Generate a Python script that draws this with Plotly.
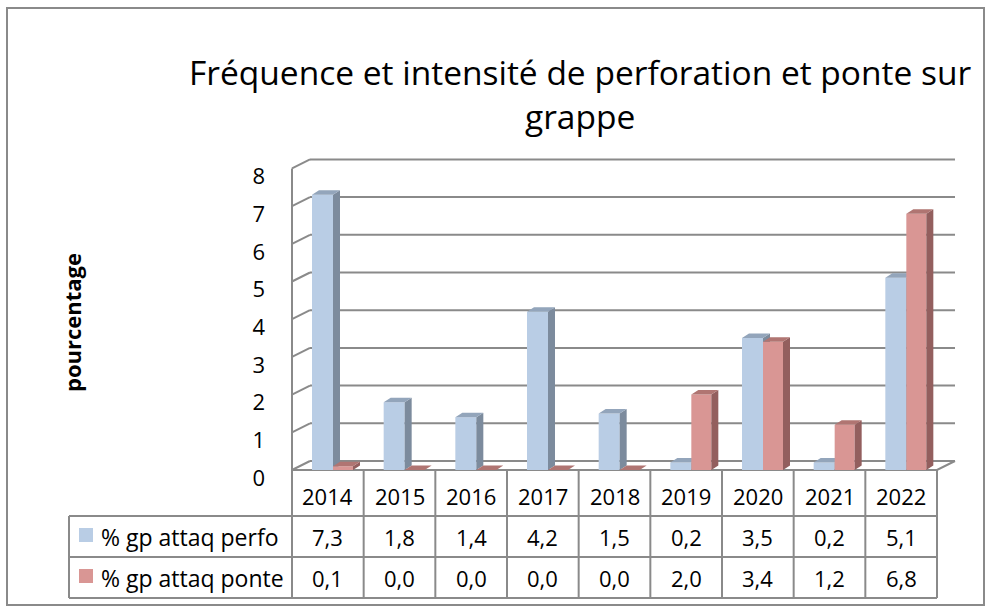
import plotly.graph_objects as go

years = ['2014', '2015', '2016', '2017', '2018', '2019', '2020', '2021', '2022']
perfo = [7.3, 1.8, 1.4, 4.2, 1.5, 0.2, 3.5, 0.2, 5.1]
ponte = [0.1, 0.0, 0.0, 0.0, 0.0, 2.0, 3.4, 1.2, 6.8]
series_names = ['% gp attaq perfo', '% gp attaq ponte']
y_ticks = [0, 1, 2, 3, 4, 5, 6, 7, 8]
title_text = 'Fréquence et intensité de perforation et ponte sur<br>grappe'

W, H = 990, 609
X0_PX = 292          # left edge of first column (front)
COL_PX = 645 / 9     # width of one category column
Y0_PX = 470          # pixel of value 0 (front)
UNIT_PX = 37.7       # pixels per unit

def dx(p):
    return p / COL_PX

def dy(p):
    return p / UNIT_PX

def px_x(p):
    return -0.5 + (p - X0_PX) / COL_PX

def px_y(p):
    return (Y0_PX - p) / UNIT_PX

# 3d offsets
wall_dx, wall_dy = dx(18), dy(9)
bar_dx, bar_dy = dx(7), dy(4.5)

grey = '#8a8a8a'
font = 'Open Sans'

def faces(vals, off0, off1):
    fx, fy, sx, sy, tx, ty = [], [], [], [], [], []
    for i, v in enumerate(vals):
        x0 = i + off0
        x1 = i + off1
        fx += [x0, x1, x1, x0, x0, None]
        fy += [0, 0, v, v, 0, None]
        sx += [x1, x1 + bar_dx, x1 + bar_dx, x1, x1, None]
        sy += [0, bar_dy, v + bar_dy, v, 0, None]
        tx += [x0, x1, x1 + bar_dx, x0 + bar_dx, x0, None]
        ty += [v, v, v + bar_dy, v + bar_dy, v, None]
    return (fx, fy), (sx, sy), (tx, ty)

def poly(xy, color):
    return go.Scatter(x=xy[0], y=xy[1], mode='lines', fill='toself',
                      fillcolor=color, line=dict(width=0), hoverinfo='skip',
                      showlegend=False)

fig = go.Figure()

# back wall gridlines
gx, gy = [], []
for v in y_ticks:
    gx += [-0.5 + wall_dx, 8.5 + wall_dx, None]
    gy += [v + wall_dy, v + wall_dy, None]
# left wall connectors + front axis
for v in y_ticks:
    gx += [-0.5, -0.5 + wall_dx, None]
    gy += [v, v + wall_dy, None]
gx += [-0.5, -0.5, None]
gy += [0, 8, None]
# floor
gx += [-0.5, 8.5, 8.5 + wall_dx, None]
gy += [0, 0, wall_dy, None]
fig.add_trace(go.Scatter(x=gx, y=gy, mode='lines', line=dict(color=grey, width=2),
                         hoverinfo='skip', showlegend=False))

off_b = (dx(312 - X0_PX) - 0.5, dx(333 - X0_PX) - 0.5)
off_r = (dx(333 - X0_PX) - 0.5, dx(353 - X0_PX) - 0.5)
bf, bs, bt = faces(perfo, *off_b)
rf, rs, rt = faces(ponte, *off_r)
fig.add_trace(poly(bf, '#B9CDE5'))
fig.add_trace(poly(bs, '#7C8B9D'))
fig.add_trace(poly(bt, '#93A5BB'))
fig.add_trace(poly(rf, '#D99694'))
fig.add_trace(poly(rs, '#935F5E'))
fig.add_trace(poly(rt, '#B07572'))

# data table
shapes = []
row_lines = [516, 557, 598]
for i in range(10):
    shapes.append(dict(type='line', x0=-0.5 + i, x1=-0.5 + i, y0=0, y1=px_y(598),
                       line=dict(color=grey, width=2)))
for r in row_lines:
    shapes.append(dict(type='line', x0=px_x(69), x1=8.5, y0=px_y(r), y1=px_y(r),
                       line=dict(color=grey, width=2)))
shapes.append(dict(type='line', x0=px_x(69), x1=px_x(69), y0=px_y(516), y1=px_y(598),
                   line=dict(color=grey, width=2)))
# legend keys
for k, col in enumerate(['#B9CDE5', '#D99694']):
    top = 528 + 41 * k
    shapes.append(dict(type='rect', x0=px_x(79), x1=px_x(93), y0=px_y(top), y1=px_y(top + 14),
                       fillcolor=col, line=dict(width=0)))
# chart border
shapes.append(dict(type='rect', xref='paper', yref='paper', x0=7 / W, x1=984 / W,
                   y0=1 - 605 / H, y1=1 - 8 / H, line=dict(color=grey, width=2)))

annotations = []
row_mid = [496, 536.5, 577.5]
for i, yr in enumerate(years):
    annotations.append(dict(x=i, y=px_y(row_mid[0]), text=yr, showarrow=False,
                            font=dict(size=22, color='black', family=font)))
    for r, vals in enumerate([perfo, ponte]):
        annotations.append(dict(x=i, y=px_y(row_mid[r + 1]),
                                text=f'{vals[i]:.1f}'.replace('.', ','), showarrow=False,
                                font=dict(size=22, color='black', family=font)))
for r, name in enumerate(series_names):
    annotations.append(dict(x=px_x(99), y=px_y(row_mid[r + 1]), text=name, showarrow=False,
                            xanchor='left', font=dict(size=23, color='black', family=font)))
annotations.append(dict(x=px_x(72), y=px_y(323), text='<b>pourcentage</b>', textangle=-90,
                        showarrow=False, font=dict(size=22, color='black', family=font)))
annotations.append(dict(x=px_x(580), y=px_y(94), text=title_text, showarrow=False,
                        font=dict(size=33.5, color='black', family=font)))

fig.update_layout(
    width=W, height=H,
    margin=dict(l=0, r=0, t=0, b=0),
    paper_bgcolor='white', plot_bgcolor='white',
    showlegend=False,
    xaxis=dict(range=[px_x(0), px_x(W)], visible=False, fixedrange=True),
    yaxis=dict(range=[px_y(H), px_y(0)], tickvals=y_ticks, ticktext=[str(t) for t in y_ticks],
               showgrid=False, zeroline=False, showline=False, ticks='',
               anchor='free', position=X0_PX / W, ticklabelstandoff=27, ticklabelshift=8,
               tickfont=dict(size=22, color='black', family=font), fixedrange=True),
    shapes=shapes,
    annotations=annotations,
)

fig.write_html("out.html", config={'displayModeBar': False},
               post_script="document.body.style.margin='0px';document.body.style.overflow='hidden';")
